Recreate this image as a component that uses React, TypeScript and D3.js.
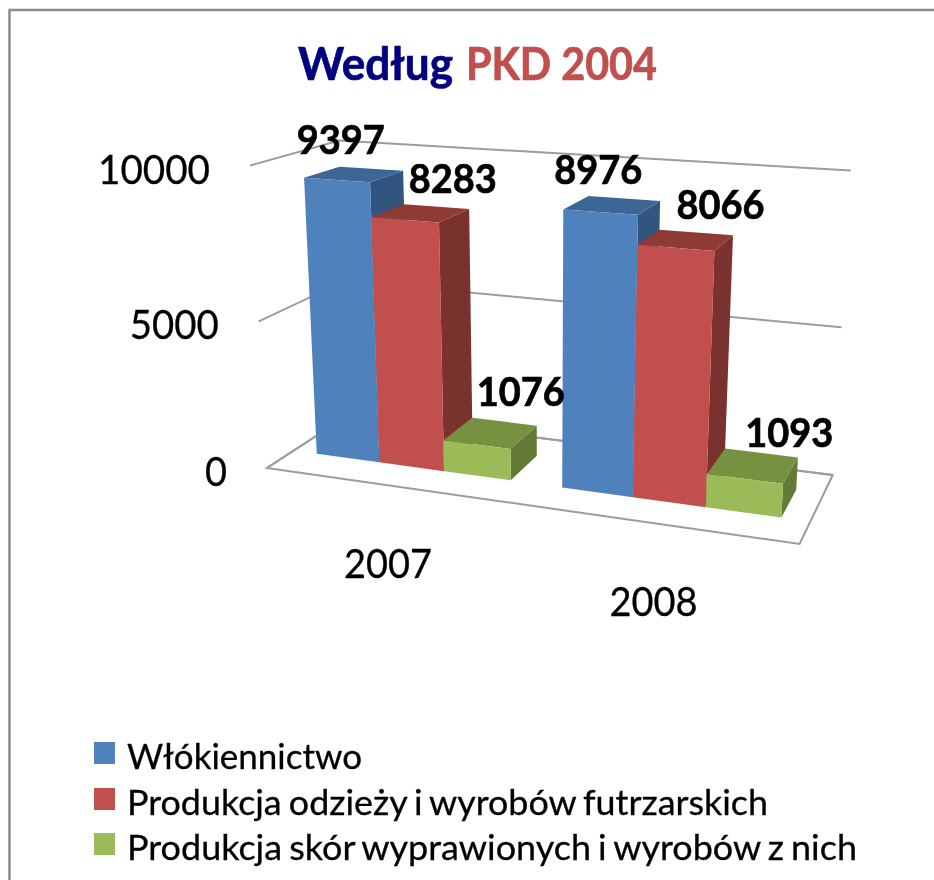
import React from 'react';
import * as d3 from 'd3';

// chart data
const years = ['2007', '2008'];
const seriesNames = [
  'Włókiennictwo',
  'Produkcja odzieży i wyrobów futrzarskich',
  'Produkcja skór wyprawionych i wyrobów z nich',
];
const values2007 = [9397, 8283, 1076];
const values2008 = [8976, 8066, 1093];
const valueTicks = [0, 5000, 10000];

const width = 934;
const height = 880;
const font = 'Lato, Carlito, Calibri, sans-serif';

const frontColors = ['#4f81bd', '#c0504d', '#9bbb59'];
const topColors = ['#3b6696', '#8f3a36', '#769140'];
const sideColors = ['#32557f', '#7a302e', '#627a35'];

// label nudges from the top of each bar's front face
const labelOffsets = [
  [[4, -26], [48, -27], [44, -39]],
  [[-2, -28], [45, -29], [44.5, -32]],
];
const labelWidth = 88;
const tickWidths = [22, 89, 112];
const legendWidths = [235, 641, 730];
const legendY = [769, 815, 860];

// Scales: everything lives in a unit box (u along, v in depth, w up)
const uGroup = d3.scaleBand().domain(years).range([0, 1]).paddingInner(0.2).paddingOuter(0.1);
const uBar = d3.scaleBand().domain(seriesNames).range([0, uGroup.bandwidth()]);
const wScale = d3.scaleLinear().domain([0, 10000]).range([0, 1]);
const vFront = 0.3;
const vBack = 0.71;

// perspective projection of the unit box on the page
function project(u: number, v: number, w: number): [number, number] {
  const d = 1 - 0.1189 * u + 0.1114 * v - 0.058 * w;
  return [
    (267 + 437.5 * u + 122 * v - 31.5 * w) / d,
    (468 + 11.3 * u - 7.9 * v - 312 * w) / d,
  ];
}

const line = d3.line();
const poly = (pts: [number, number, number][]) =>
  line(pts.map((p) => project(p[0], p[1], p[2]))) + 'Z';
const open = (pts: [number, number, number][]) =>
  line(pts.map((p) => project(p[0], p[1], p[2]))) as string;

function Bars() {
  return (
    <g>
      {years.map((year, g) => {
        const vals = g === 0 ? values2007 : values2008;
        return seriesNames.map((name, s) => {
          const u0 = (uGroup(year) as number) + (uBar(name) as number);
          const u1 = u0 + uBar.bandwidth();
          const w = wScale(vals[s]);
          return (
            <g key={year + name}>
              <path d={poly([[u1, vFront, 0], [u1, vBack, 0], [u1, vBack, w], [u1, vFront, w]])} fill={sideColors[s]} />
              <path d={poly([[u0, vFront, w], [u1, vFront, w], [u1, vBack, w], [u0, vBack, w]])} fill={topColors[s]} />
              <path d={poly([[u0, vFront, 0], [u1, vFront, 0], [u1, vFront, w], [u0, vFront, w]])} fill={frontColors[s]} />
            </g>
          );
        });
      })}
    </g>
  );
}

function BarLabels() {
  return (
    <g fontFamily={font} fontWeight="bold" fontSize={40} fill="#000" stroke="#000" strokeWidth={0.7} textAnchor="middle">
      {years.map((year, g) => {
        const vals = g === 0 ? values2007 : values2008;
        return seriesNames.map((name, s) => {
          const um = (uGroup(year) as number) + (uBar(name) as number) + uBar.bandwidth() / 2;
          const [x, y] = project(um, vFront, wScale(vals[s]));
          return (
            <text
              key={year + name}
              x={x + labelOffsets[g][s][0]}
              y={y + labelOffsets[g][s][1]}
              textLength={labelWidth}
              lengthAdjust="spacingAndGlyphs"
            >
              {vals[s]}
            </text>
          );
        });
      })}
    </g>
  );
}

export default function App() {
  return (
    <svg
      width={width}
      height={height}
      viewBox={`0 0 ${width} ${height}`}
      style={{ position: 'absolute', left: 0, top: 0, background: '#fff' }}
    >
      {/* the reference is an upscaled bitmap, so everything is a little soft */}
      <filter id="soft" x="0" y="0" width="100%" height="100%" filterUnits="userSpaceOnUse">
        <feGaussianBlur stdDeviation={0.6} />
      </filter>
      <g filter="url(#soft)">
        {/* chart frame, runs off the page right and bottom */}
        <path d="M9.5,880V10H934" fill="none" stroke="#8c8c8c" strokeWidth={2.5} />

        <g fontFamily={font} fontWeight="bold" fontSize={46} strokeWidth={0.7}>
          <text x={298} y={80} textLength={155} lengthAdjust="spacingAndGlyphs" fill="#000080" stroke="#000080">
            Według
          </text>
          <text x={466} y={80} textLength={191} lengthAdjust="spacingAndGlyphs" fill="#c0504d" stroke="#c0504d">
            PKD 2004
          </text>
        </g>

        {/* gridlines on the walls */}
        <g fill="none" stroke="#9c9c9c" strokeWidth={2}>
          {valueTicks.map((t) => {
            const w = wScale(t);
            return <path key={t} d={open([[0, 0, w], [0, 1, w], [1, 1, w]])} />;
          })}
          <path d={poly([[0, 0, 0], [1, 0, 0], [1, 1, 0], [0, 1, 0]])} />
        </g>

        <Bars />
        <BarLabels />

        {/* value axis */}
        <g fontFamily={font} fontSize={40} fill="#000" stroke="#000" strokeWidth={0.3} textAnchor="end">
          {valueTicks.map((t, i) => {
            const [x, y] = project(0, 0, wScale(t));
            return (
              <text key={t} x={x - 40} y={y + 18} textLength={tickWidths[i]} lengthAdjust="spacingAndGlyphs">
                {t}
              </text>
            );
          })}
        </g>

        {/* category axis */}
        <g fontFamily={font} fontSize={40} fill="#000" stroke="#000" strokeWidth={0.3} textAnchor="middle">
          {years.map((year) => {
            const um = (uGroup(year) as number) + uGroup.bandwidth() / 2;
            const [x, y] = project(um, 0, 0);
            return (
              <text key={year} x={x} y={y + 93} textLength={labelWidth} lengthAdjust="spacingAndGlyphs">
                {year}
              </text>
            );
          })}
        </g>

        {/* legend */}
        <g fontFamily={font} fontSize={35} fill="#000" stroke="#000" strokeWidth={0.3} wordSpacing={-2}>
          {seriesNames.map((name, i) => (
            <g key={name}>
              <rect x={94} y={legendY[i] - 27} width={21} height={22} fill={frontColors[i]} stroke="none" />
              <text x={127} y={legendY[i]} textLength={legendWidths[i]} lengthAdjust="spacingAndGlyphs">
                {name}
              </text>
            </g>
          ))}
        </g>
      </g>
    </svg>
  );
}
